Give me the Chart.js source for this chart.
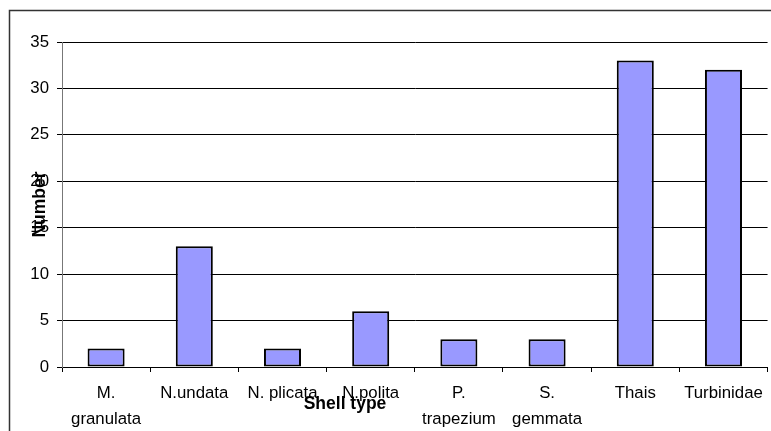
<!DOCTYPE html>
<html>
<head>
    <meta charset="utf-8"/>
    <title>Shell types</title>
    <script src="https://cdn.jsdelivr.net/npm/chart.js"></script>
    <style>
        html, body { margin: 0; padding: 0; background: #fff; }
        #wrap { width: 771px; height: 431px; position: relative; }
    </style>
</head>
<body>
<div id="wrap"><canvas id="shellChart"></canvas></div>

<script type="text/javascript">
    // Shell counts per type
    const shellTypes = [
        ['M.', 'granulata'],
        'N.undata',
        'N. plicata',
        'N.polita',
        ['P.', 'trapezium'],
        ['S.', 'gemmata'],
        'Thais',
        'Turbinidae'
    ];
    const shellCounts = [2, 13, 2, 6, 3, 3, 33, 32];
    const yMax = 35;
    const yStep = 5;

    const FONT = "'Liberation Sans', Arial, sans-serif";

    // Outer frame and the two axis titles, drawn where the old chart put them
    const decorations = {
        id: 'decorations',
        afterDraw(chart) {
            const ctx = chart.ctx;
            const area = chart.chartArea;
            ctx.save();
            ctx.strokeStyle = '#333';
            ctx.lineWidth = 1.5;
            ctx.strokeRect(9.5, 10.5, 900, 600);

            ctx.fillStyle = '#000';
            ctx.font = 'bold 17.5px ' + FONT;
            ctx.textAlign = 'center';
            ctx.textBaseline = 'middle';
            ctx.fillText('Shell type', 345, 404);

            ctx.translate(40, (area.top + area.bottom) / 2);
            ctx.rotate(-Math.PI / 2);
            ctx.fillText('Number', 0, 0);
            ctx.restore();
        }
    };

    const ctx = document.getElementById('shellChart').getContext('2d');
    const shellChart = new Chart(ctx, {
        type: 'bar',
        data: {
            labels: shellTypes,
            datasets: [{
                label: 'Number',
                data: shellCounts,
                backgroundColor: '#9999FF',
                borderColor: '#000',
                borderWidth: 2,
                borderSkipped: false,
                barPercentage: 0.42,
                categoryPercentage: 1.0
            }]
        },
        options: {
            responsive: true,
            maintainAspectRatio: false,
            animation: false,
            layout: { padding: { top: 42, right: 3, left: 0, bottom: 0 } },
            plugins: {
                legend: { display: false },
                tooltip: { enabled: false }
            },
            scales: {
                x: {
                    grid: {
                        offset: true,
                        drawOnChartArea: false,
                        drawTicks: true,
                        tickLength: 5,
                        color: '#000'
                    },
                    border: { color: '#000', width: 1 },
                    ticks: {
                        color: '#000',
                        padding: 8,
                        maxRotation: 0,
                        autoSkip: false,
                        font: { family: FONT, size: 16.8, lineHeight: 1.55 }
                    },
                    afterFit(scale) { scale.height = 64; }
                },
                y: {
                    min: 0,
                    max: yMax,
                    grid: {
                        color: '#000',
                        lineWidth: 1,
                        tickLength: 5
                    },
                    border: { color: '#777', width: 1 },
                    ticks: {
                        stepSize: yStep,
                        color: '#000',
                        padding: 8,
                        font: { family: FONT, size: 16.8 }
                    },
                    afterFit(scale) { scale.width = 62; }
                }
            }
        },
        plugins: [decorations]
    });
</script>
</body>
</html>
